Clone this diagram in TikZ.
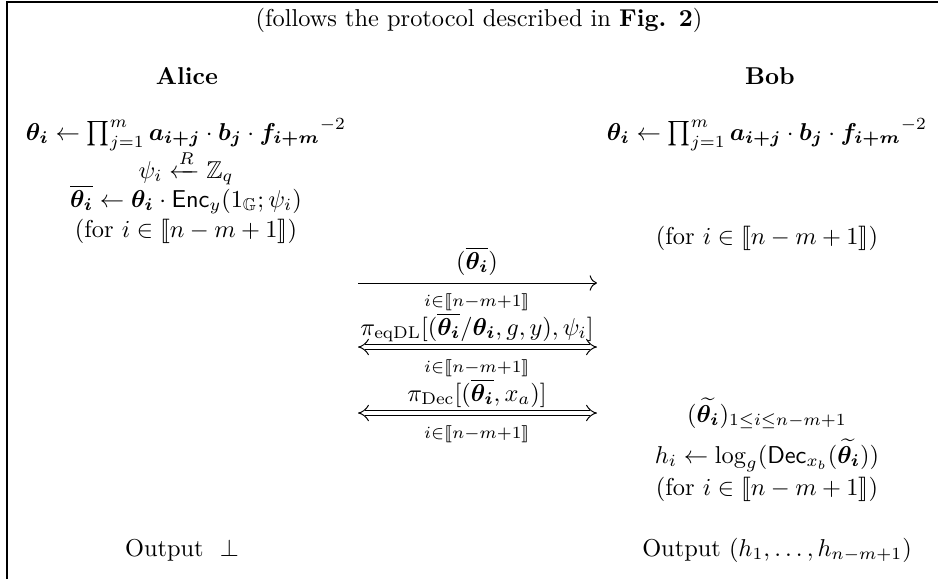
\documentclass[tikz,border=0pt]{standalone}
\usepackage{amsmath,amssymb,bm,stmaryrd}
\usetikzlibrary{arrows.meta}
\begin{document}
\begin{tikzpicture}[x=0.41pt,y=-0.41pt,
  txt/.style={inner sep=0pt, anchor=base},
  sub/.style={inner sep=0pt, anchor=center},
  single/.style={line width=0.4pt, -{To[length=3pt]}},
  both/.style={line width=0.4pt, double, double distance=2pt, {Implies}-{Implies}}]
\useasboundingbox (0,0) rectangle (938,579);
\draw[line width=0.5pt] (7,579) -- (7,2) -- (938,2);
% title
\node[txt] (title) at (479,26) {(follows the protocol described in \textbf{Fig. 2})};
% parties
\node[txt] (alice) at (187,84) {\textbf{Alice}};
\node[txt] (bob) at (770,84) {\textbf{Bob}};
% Alice column
\node[txt] (a1) at (186,140) {$\bm{\theta_i} \leftarrow \prod_{j=1}^{m} \bm{a_{i+j}} \cdot \bm{b_j} \cdot {\bm{f_{i+m}}}^{-2}$};
\node[txt] (a2) at (186,178) {$\psi_i \xleftarrow{R} \mathbb{Z}_q$};
\node[txt] (a3) at (186,207) {$\overline{\bm{\theta_i}} \leftarrow \bm{\theta_i} \cdot \mathsf{Enc}_y(1_{\mathbb{G}};\psi_i)$};
\node[txt] (a4) at (186,237) {(for $i\in\llbracket n-m+1\rrbracket$)};
% Bob column
\node[txt] (b1) at (767,140) {$\bm{\theta_i} \leftarrow \prod_{j=1}^{m} \bm{a_{i+j}} \cdot \bm{b_j} \cdot {\bm{f_{i+m}}}^{-2}$};
\node[txt] (b2) at (767,244) {(for $i\in\llbracket n-m+1\rrbracket$)};
\node[txt] (b3) at (767,422) {$(\widetilde{\bm{\theta_i}})_{1\le i\le n-m+1}$};
\node[txt] (b4) at (767,463) {$h_i \leftarrow \log_g(\mathsf{Dec}_{x_b}(\widetilde{\bm{\theta_i}}))$};
\node[txt] (b5) at (767,495) {(for $i\in\llbracket n-m+1\rrbracket$)};
% outputs
\node[txt] (ao) at (182,556) {Output\ \ $\bot$};
\node[txt] (bo) at (777,556) {Output $(h_1,\ldots,h_{n-m+1})$};
% messages
\coordinate (m1l) at (358,283); \coordinate (m1r) at (597,283);
\coordinate (m2l) at (358,347); \coordinate (m2r) at (597,347);
\coordinate (m3l) at (358,413); \coordinate (m3r) at (597,413);
\draw[single] (m1l) -- (m1r);
\draw[both] (m2l) -- (m2r);
\draw[both] (m3l) -- (m3r);
\node[txt] (l1) at (477,269) {$(\overline{\bm{\theta_i}})$};
\node[sub] (s1) at (477,302) {$\scriptstyle i\in\llbracket n-m+1\rrbracket$};
\node[txt] (l2) at (477,335) {$\pi_{\mathrm{eqDL}}[(\overline{\bm{\theta_i}}/\bm{\theta_i},g,y),\psi_i]$};
\node[sub] (s2) at (477,368) {$\scriptstyle i\in\llbracket n-m+1\rrbracket$};
\node[txt] (l3) at (477,401) {$\pi_{\mathrm{Dec}}[(\overline{\bm{\theta_i}},x_a)]$};
\node[sub] (s3) at (477,434) {$\scriptstyle i\in\llbracket n-m+1\rrbracket$};
\end{tikzpicture}
\end{document}
